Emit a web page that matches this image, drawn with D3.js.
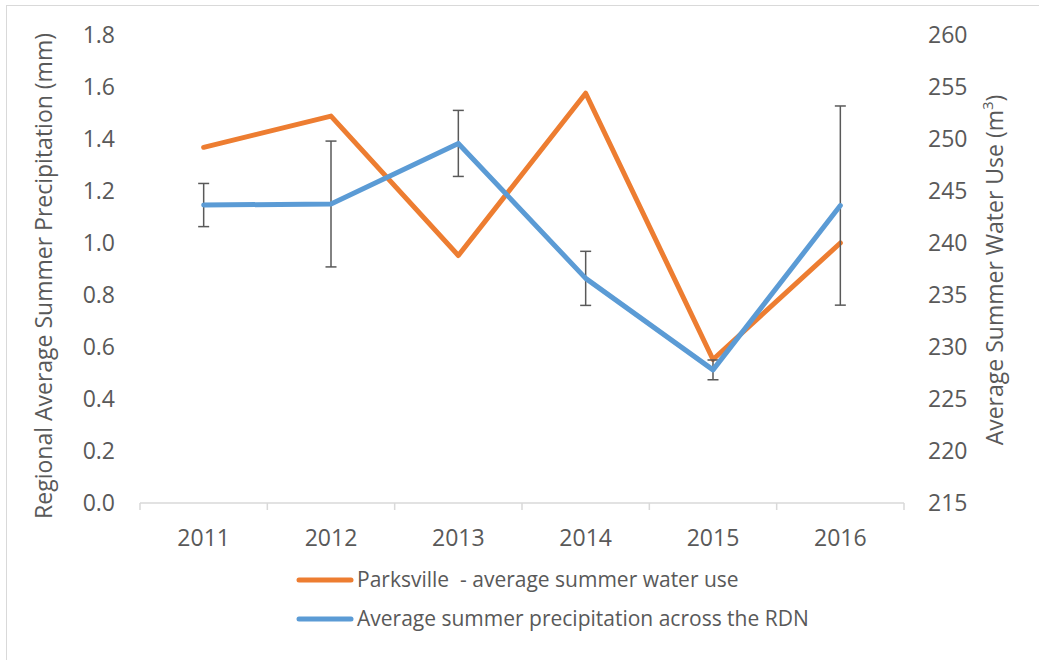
<!DOCTYPE html>
<html>
<head>
<meta charset="utf-8">
<script src="https://cdn.jsdelivr.net/npm/d3@7"></script>
<style>
  html, body { margin: 0; padding: 0; background: #fff; }
  svg text { font-family: "Open Sans", "Noto Sans", sans-serif; fill: #595959; white-space: pre; }
</style>
</head>
<body>
<svg id="chart" width="1039" height="660"></svg>
<script>
const years = ["2011", "2012", "2013", "2014", "2015", "2016"];
const waterUse = [249.2, 252.2, 238.8, 254.4, 228.8, 240.0];
const precip = [1.146, 1.150, 1.383, 0.864, 0.512, 1.144];
const precipErr = [0.083, 0.242, 0.127, 0.104, 0.038, 0.383];
const leftTicks = [0, 0.2, 0.4, 0.6, 0.8, 1.0, 1.2, 1.4, 1.6, 1.8];
const rightTicks = [215, 220, 225, 230, 235, 240, 245, 250, 255, 260];
const seriesNames = ["Parksville  - average summer water use", "Average summer precipitation across the RDN"];

const svg = d3.select("#chart");
const orange = "#ED7D31", blue = "#5B9BD5", axisCol = "#D9D9D9", errCol = "#595959";

svg.append("rect").attr("x", 6.5).attr("y", 5.5).attr("width", 1100).attr("height", 700)
  .attr("fill", "#fff").attr("stroke", axisCol).attr("stroke-width", 1);

const x = d3.scaleBand().domain(years).range([140, 904]);
const yL = d3.scaleLinear().domain([0, 1.8]).range([503, 35]);
const yR = d3.scaleLinear().domain([215, 260]).range([503, 35]);

// X axis
const gx = svg.append("g").attr("transform", "translate(0,503)");
gx.append("line").attr("x1", 140).attr("x2", 904).attr("stroke", axisCol).attr("stroke-width", 1.5);
const boundaries = years.map(y => x(y)).concat([x.range()[1]]);
gx.selectAll("line.tk").data(boundaries).enter().append("line").attr("class", "tk")
  .attr("x1", d => d).attr("x2", d => d).attr("y1", 0).attr("y2", 7)
  .attr("stroke", axisCol).attr("stroke-width", 1.5);
gx.selectAll("text").data(years).enter().append("text")
  .attr("x", d => x(d) + x.bandwidth() / 2).attr("y", 43)
  .attr("text-anchor", "middle").attr("font-size", 23).text(d => d);

// Left axis labels
svg.append("g").selectAll("text").data(leftTicks).enter().append("text")
  .attr("x", 115).attr("y", d => yL(d)).attr("dy", "0.35em")
  .attr("text-anchor", "end").attr("font-size", 23).text(d => d3.format(".1f")(d));

// Right axis labels
svg.append("g").selectAll("text").data(rightTicks).enter().append("text")
  .attr("x", 928).attr("y", d => yR(d)).attr("dy", "0.35em")
  .attr("text-anchor", "start").attr("font-size", 23).text(d => d);

// Axis titles
svg.append("text").attr("transform", "translate(52,276) rotate(-90)")
  .attr("text-anchor", "middle").attr("font-size", 23)
  .text("Regional Average Summer Precipitation (mm)");
const rt = svg.append("text").attr("transform", "translate(1003,270) rotate(-90)")
  .attr("text-anchor", "middle").attr("font-size", 23);
rt.append("tspan").text("Average Summer Water Use (m");
rt.append("tspan").attr("font-size", 15).attr("baseline-shift", "super").text("3");
rt.append("tspan").text(")");

const cx = d => x(d) + x.bandwidth() / 2;

// Orange line (right axis)
svg.append("path").datum(years.map((y, i) => [cx(y), yR(waterUse[i])]))
  .attr("d", d3.line()).attr("fill", "none").attr("stroke", orange)
  .attr("stroke-width", 5).attr("stroke-linejoin", "round").attr("stroke-linecap", "round");

// Error bars (blue series)
const eg = svg.append("g").attr("stroke", errCol).attr("stroke-width", 1.5);
years.forEach((y, i) => {
  const top = yL(precip[i] + precipErr[i]), bot = yL(precip[i] - precipErr[i]), c = cx(y);
  eg.append("line").attr("x1", c).attr("x2", c).attr("y1", top).attr("y2", bot);
  eg.append("line").attr("x1", c - 5.5).attr("x2", c + 5.5).attr("y1", top).attr("y2", top);
  eg.append("line").attr("x1", c - 5.5).attr("x2", c + 5.5).attr("y1", bot).attr("y2", bot);
});

// Blue line (left axis)
svg.append("path").datum(years.map((y, i) => [cx(y), yL(precip[i])]))
  .attr("d", d3.line()).attr("fill", "none").attr("stroke", blue)
  .attr("stroke-width", 5).attr("stroke-linejoin", "round").attr("stroke-linecap", "round");

// Legend
const legColors = [orange, blue];
const lg = svg.append("g");
seriesNames.forEach((n, i) => {
  const ly = 580 + i * 39;
  lg.append("line").attr("x1", 299).attr("x2", 351).attr("y1", ly).attr("y2", ly)
    .attr("stroke", legColors[i]).attr("stroke-width", 5).attr("stroke-linecap", "round");
  lg.append("text").attr("x", 357).attr("y", ly).attr("dy", "0.35em")
    .attr("font-size", 21).text(n);
});
</script>
</body>
</html>
